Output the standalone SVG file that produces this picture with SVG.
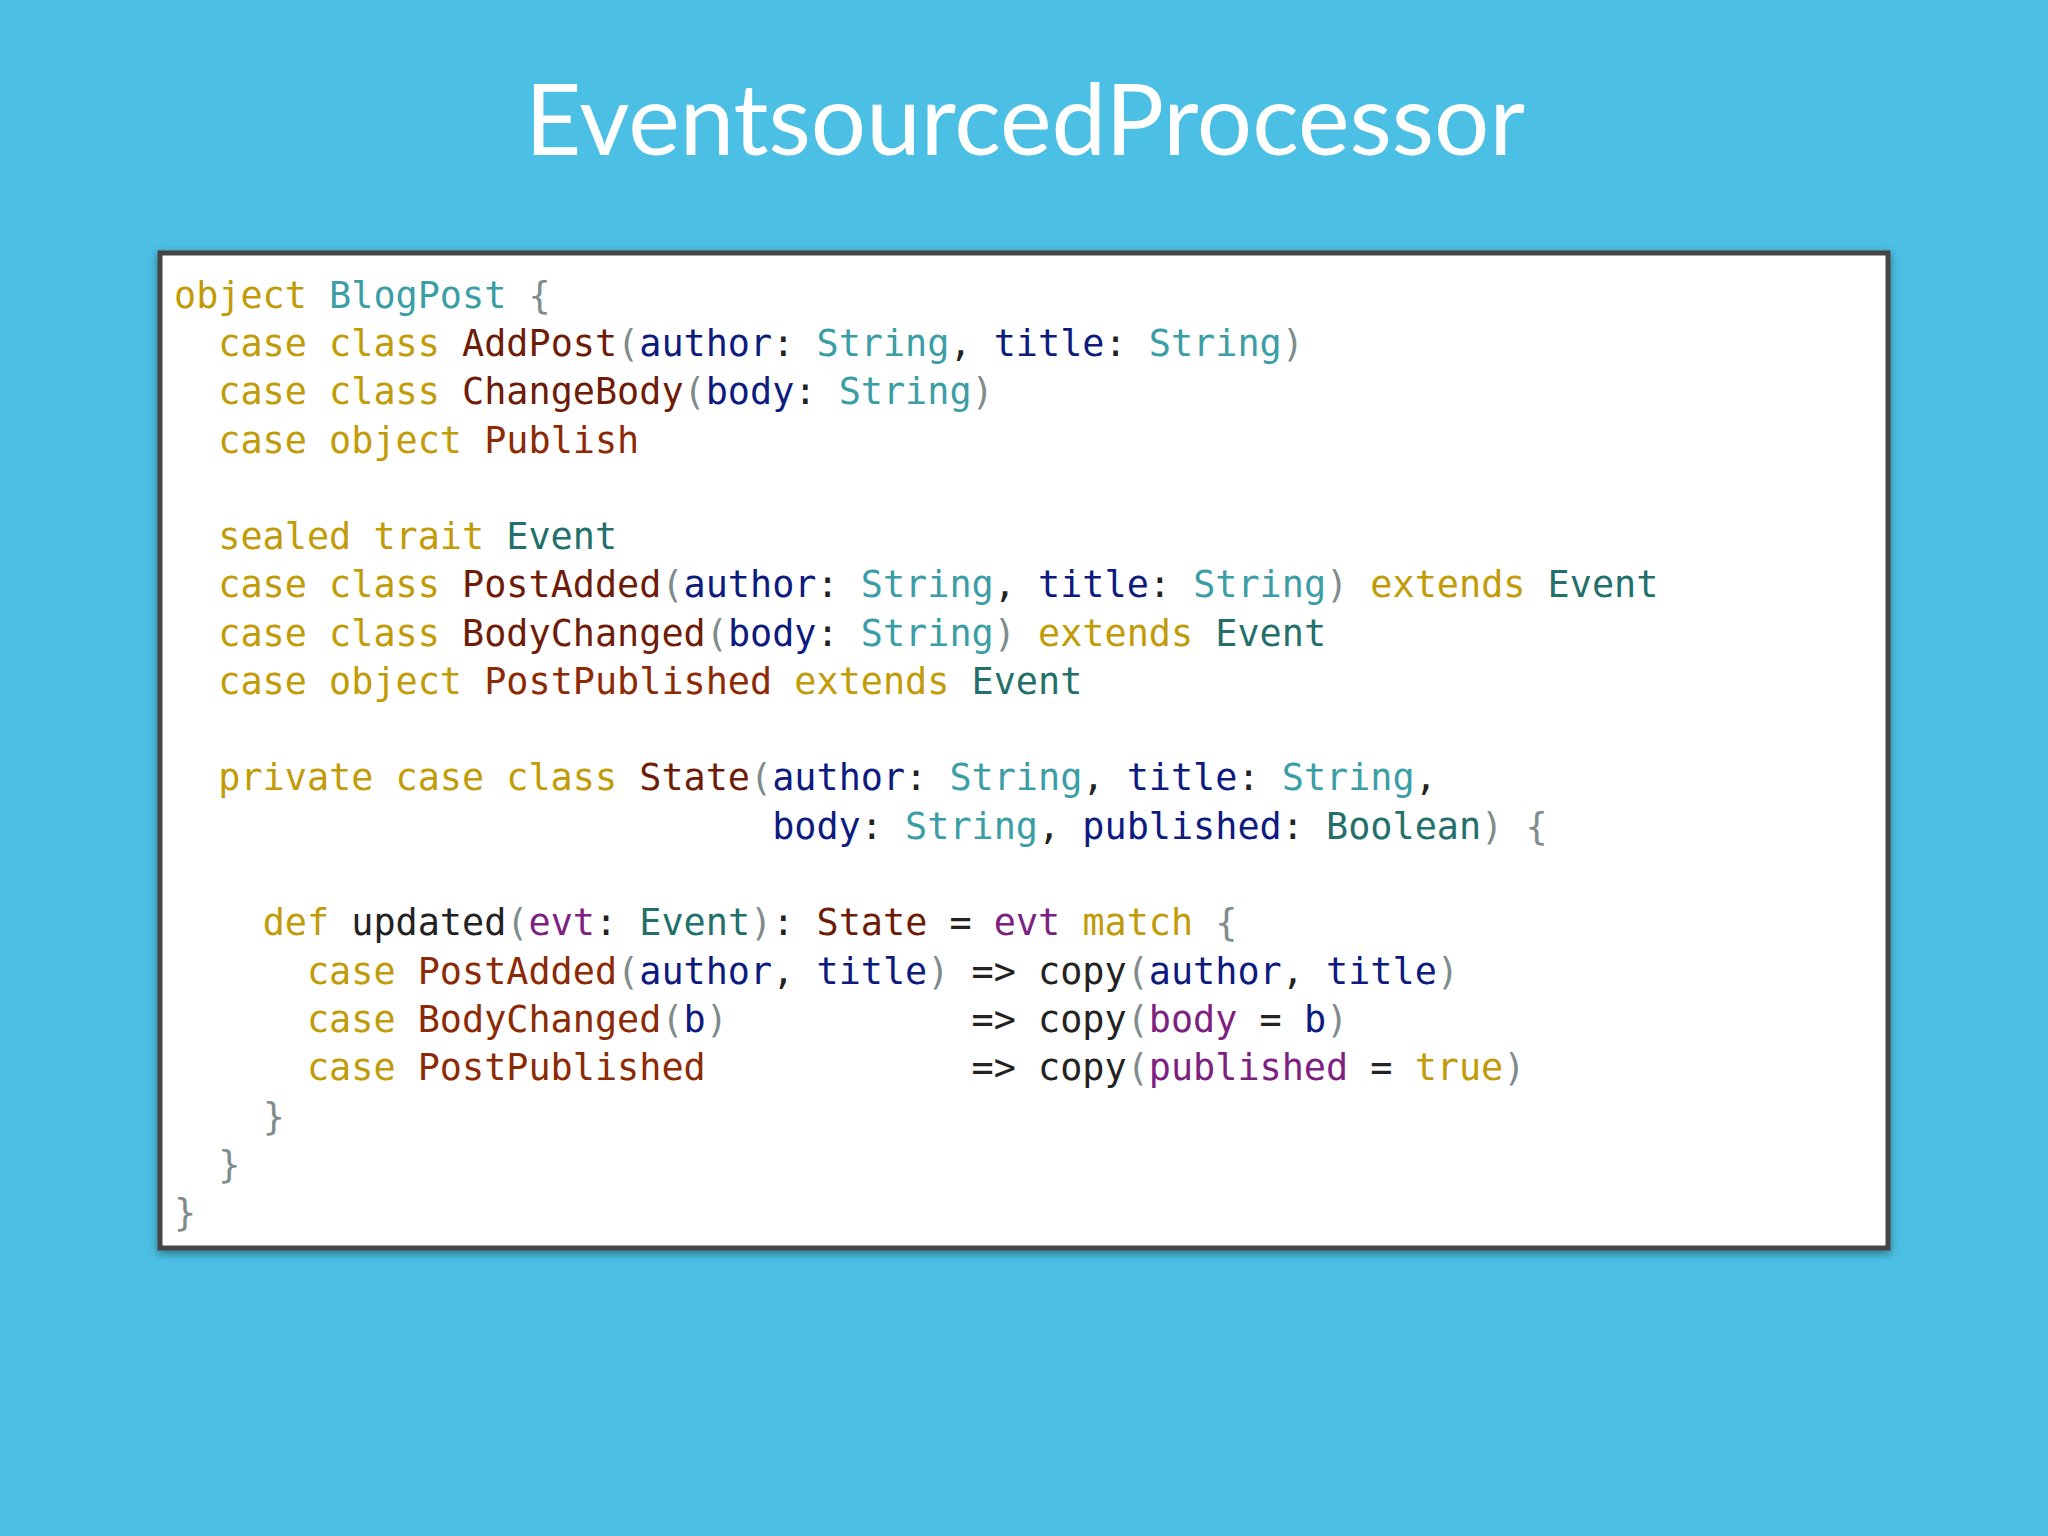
<svg xmlns="http://www.w3.org/2000/svg" width="2048" height="1536" viewBox="0 0 2048 1536">
<defs>
<style>
.c{font-family:"DejaVu Sans Mono","Liberation Mono",monospace;font-size:36.8px;white-space:pre;fill:#222}
.k{fill:#c29b08}.t{fill:#3b9ea6}.e{fill:#23706b}.n{fill:#6e1c08}.r{fill:#8b2a04}.p{fill:#0d1b7e}.u{fill:#7f8c8d}.v{fill:#7d2180}
</style>
<filter id="sh" x="-5%" y="-5%" width="110%" height="110%"><feDropShadow dx="0" dy="3" stdDeviation="4" flood-opacity="0.4"/></filter>
</defs>
<rect width="2048" height="1536" fill="#4bbfe4"/>
<text x="1025" y="155" text-anchor="middle" font-family="Lato,'Open Sans',sans-serif" font-size="98" fill="#fff" textLength="1000" lengthAdjust="spacingAndGlyphs">EventsourcedProcessor</text>
<g id="codebox">
<rect x="160" y="253" width="1728" height="995" fill="#fff" stroke="#444" stroke-width="5" filter="url(#sh)"/>
<text class="c" xml:space="preserve">
<tspan x="174" y="308"><tspan class="k">object</tspan> <tspan class="t">BlogPost</tspan> <tspan class="u">{</tspan></tspan>
<tspan x="174" y="356">  <tspan class="k">case class</tspan> <tspan class="n">AddPost</tspan><tspan class="u">(</tspan><tspan class="p">author</tspan>: <tspan class="t">String</tspan>, <tspan class="p">title</tspan>: <tspan class="t">String</tspan><tspan class="u">)</tspan></tspan>
<tspan x="174" y="404">  <tspan class="k">case class</tspan> <tspan class="n">ChangeBody</tspan><tspan class="u">(</tspan><tspan class="p">body</tspan>: <tspan class="t">String</tspan><tspan class="u">)</tspan></tspan>
<tspan x="174" y="453">  <tspan class="k">case object</tspan> <tspan class="r">Publish</tspan></tspan>
<tspan x="174" y="549">  <tspan class="k">sealed trait</tspan> <tspan class="e">Event</tspan></tspan>
<tspan x="174" y="597">  <tspan class="k">case class</tspan> <tspan class="n">PostAdded</tspan><tspan class="u">(</tspan><tspan class="p">author</tspan>: <tspan class="t">String</tspan>, <tspan class="p">title</tspan>: <tspan class="t">String</tspan><tspan class="u">)</tspan> <tspan class="k">extends</tspan> <tspan class="e">Event</tspan></tspan>
<tspan x="174" y="646">  <tspan class="k">case class</tspan> <tspan class="n">BodyChanged</tspan><tspan class="u">(</tspan><tspan class="p">body</tspan>: <tspan class="t">String</tspan><tspan class="u">)</tspan> <tspan class="k">extends</tspan> <tspan class="e">Event</tspan></tspan>
<tspan x="174" y="694">  <tspan class="k">case object</tspan> <tspan class="r">PostPublished</tspan> <tspan class="k">extends</tspan> <tspan class="e">Event</tspan></tspan>
<tspan x="174" y="790">  <tspan class="k">private case class</tspan> <tspan class="n">State</tspan><tspan class="u">(</tspan><tspan class="p">author</tspan>: <tspan class="t">String</tspan>, <tspan class="p">title</tspan>: <tspan class="t">String</tspan>,</tspan>
<tspan x="174" y="839">                           <tspan class="p">body</tspan>: <tspan class="t">String</tspan>, <tspan class="p">published</tspan>: <tspan class="e">Boolean</tspan><tspan class="u">)</tspan> <tspan class="u">{</tspan></tspan>
<tspan x="174" y="935">    <tspan class="k">def</tspan> updated<tspan class="u">(</tspan><tspan class="v">evt</tspan>: <tspan class="e">Event</tspan><tspan class="u">)</tspan>: <tspan class="n">State</tspan> = <tspan class="v">evt</tspan> <tspan class="k">match</tspan> <tspan class="u">{</tspan></tspan>
<tspan x="174" y="984">      <tspan class="k">case</tspan> <tspan class="r">PostAdded</tspan><tspan class="u">(</tspan><tspan class="p">author</tspan>, <tspan class="p">title</tspan><tspan class="u">)</tspan> =&gt; copy<tspan class="u">(</tspan><tspan class="p">author</tspan>, <tspan class="p">title</tspan><tspan class="u">)</tspan></tspan>
<tspan x="174" y="1032">      <tspan class="k">case</tspan> <tspan class="r">BodyChanged</tspan><tspan class="u">(</tspan><tspan class="p">b</tspan><tspan class="u">)</tspan>           =&gt; copy<tspan class="u">(</tspan><tspan class="v">body</tspan> = <tspan class="p">b</tspan><tspan class="u">)</tspan></tspan>
<tspan x="174" y="1080">      <tspan class="k">case</tspan> <tspan class="r">PostPublished</tspan>            =&gt; copy<tspan class="u">(</tspan><tspan class="v">published</tspan> = <tspan class="k">true</tspan><tspan class="u">)</tspan></tspan>
<tspan x="174" y="1129">    <tspan class="u">}</tspan></tspan>
<tspan x="174" y="1177">  <tspan class="u">}</tspan></tspan>
<tspan x="174" y="1225"><tspan class="u">}</tspan></tspan>
</text>
</g>
</svg>
